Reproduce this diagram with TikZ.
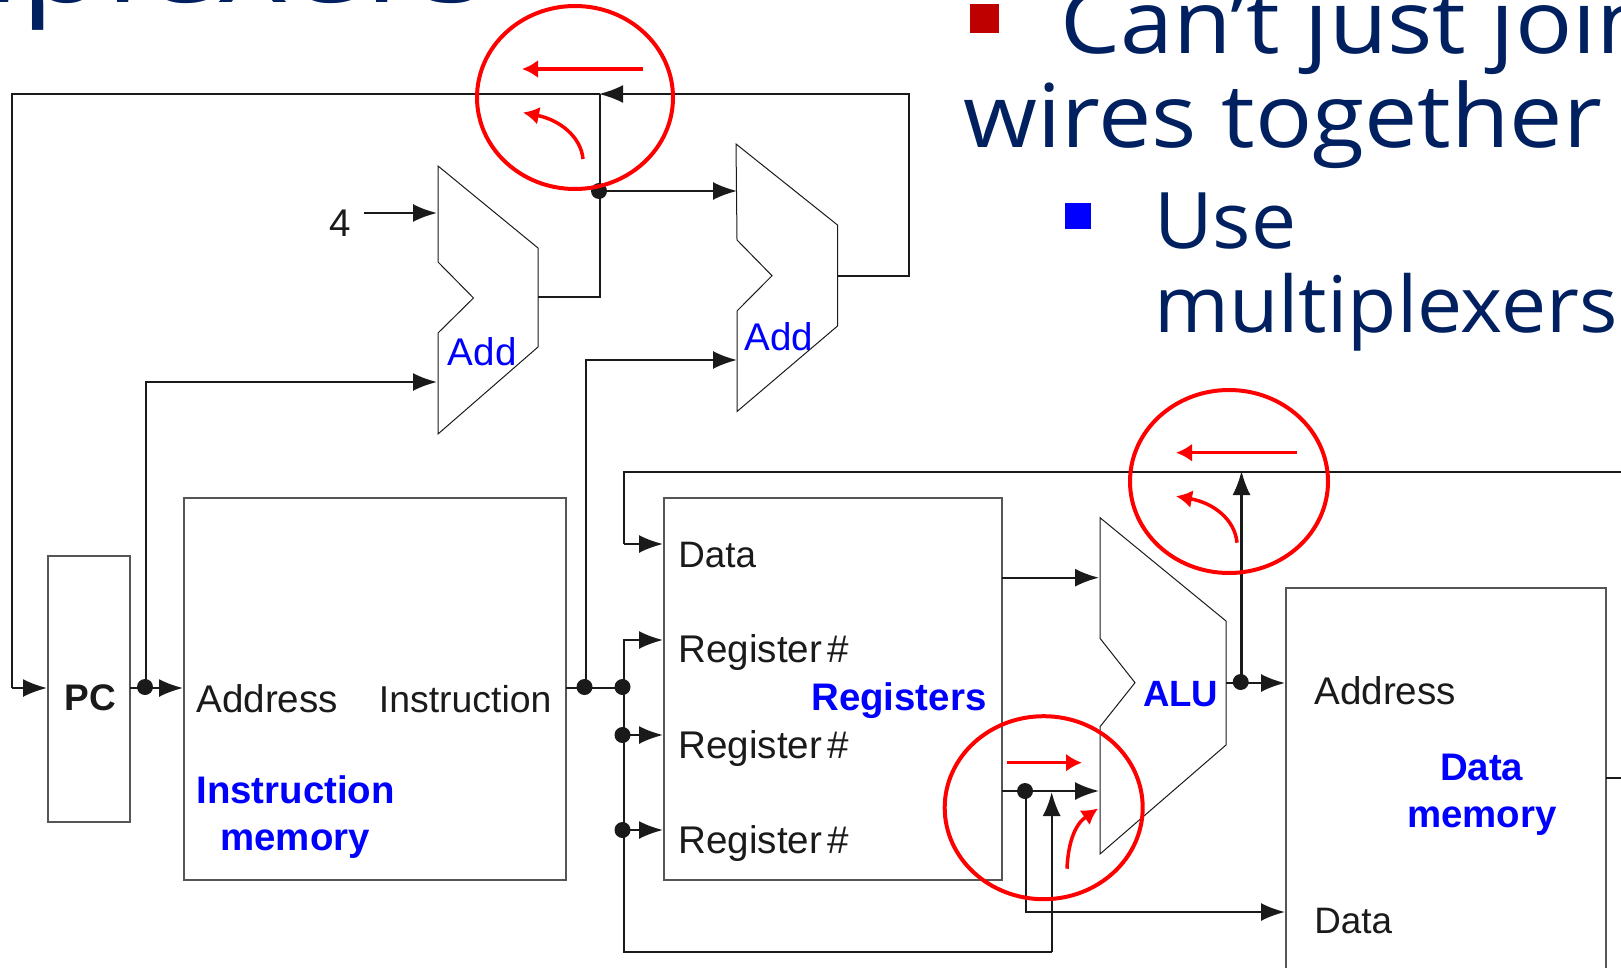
\documentclass[tikz,border=0pt]{standalone}
\usepackage{fontspec}
\setmainfont{Liberation Sans}
\newfontfamily\ttl{Open Sans}
\usetikzlibrary{arrows.meta,shapes.geometric}
\definecolor{navy}{HTML}{002060}
\definecolor{lab}{HTML}{0000FF}
\definecolor{ink}{HTML}{1A1A1A}
\definecolor{edge}{HTML}{555555}
\tikzset{
  wire/.style={draw=ink,line width=1.1pt},
  arw/.style={wire,-{Latex[length=12pt,width=9pt]}},
  box/.style={draw=edge,line width=0.8pt},
  alu/.style={draw=ink,line width=0.5pt},
  lbl/.style={inner sep=0pt,anchor=base west,text=ink,font=\fontsize{19.3}{19}\selectfont},
  blu/.style={inner sep=0pt,anchor=base west,text=lab,font=\fontsize{19.3}{19}\selectfont},
  bblu/.style={blu,font=\fontsize{19.2}{19}\selectfont\bfseries},
  cblu/.style={bblu,anchor=base},
  ring/.style={draw=red,line width=2pt,ellipse,inner sep=0pt},
  rarw/.style={draw=red,line width=1.75pt,-{Latex[length=8pt,width=9pt]}},
  dotj/.style={circle,fill=ink,inner sep=0pt,minimum size=8pt},
  ttlb/.style={inner sep=0pt,anchor=base west,text=navy,font=\ttl\fontsize{44}{44}\selectfont,xscale=1.08},
  ttlc/.style={ttlb,font=\ttl\fontsize{39}{39}\selectfont,xscale=0.955},
}
\begin{document}
\begin{tikzpicture}[x=0.5pt,y=-0.5pt]
\useasboundingbox (0,0) rectangle (1621,968);
\clip (0,0) rectangle (1621,968);
% slide texts
\node[ttlb,font=\ttl\fontsize{58}{58}\selectfont,xscale=1.111] (ttl) at (-310.6,3) {Multiplexers};
\node[ttlb] (l1) at (1060,53.3) {Can’t just join};
\node[ttlb] (l2) at (963,147.7) {wires together};
\node[ttlc] (l3) at (1154,249) {Use};
\node[ttlc] (l4) at (1154,332.5) {multiplexers};
\fill[fill=red!75!black] (970,4) rectangle (999,32.7);
\fill[fill=lab] (1065,203) rectangle (1091,228.7);
% boxes
\draw[box] (48.2,556) rectangle (129.7,821.7);
\draw[box] (183.7,497.7) rectangle (566,880);
\draw[box] (664,497.7) rectangle (1002,880);
\draw[box] (1285.7,587.7) rectangle (1606,990);
% adders and ALU
\draw[alu] (438,166)--(538,248)--(538,347)--(438,434)--(438,333)--(473.5,298)--(438,262)--cycle;
\draw[alu] (736,144)--(837.5,225)--(837.5,326)--(737,411.5)--(737,311)--(772,275.7)--(737,240)--cycle;
\draw[alu] (1100,517.7)--(1226,621)--(1226,745)--(1100,854)--(1100,726.7)--(1135,682.7)--(1100,638.3)--cycle;
% named junctions
\node[dotj] (j1) at (599,191) {};
\node[dotj] (j2) at (145,687) {};
\node[dotj] (j3) at (584.5,687) {};
\node[dotj] (j4) at (622.5,687) {};
\node[dotj] (j5) at (622.5,735) {};
\node[dotj] (j6) at (622.5,830) {};
\node[dotj] (j7) at (1025,791) {};
\node[dotj] (j8) at (1240.7,682) {};
\coordinate (a2top) at (737,191);
% wires
\draw[arw] (838,276)--(909,276)--(909,94)--(599,94);
\draw[wire] (600,94)--(12,94)--(12,688);
\draw[arw] (12,688)--(47,688);
\draw[wire] (538,297)--(600,297)--(600,94);
\draw[arw] (j1.center)--(a2top);
\draw[arw] (364,213)--(437,213);
\draw[arw] (146,688)--(146,382)--(437,382);
\draw[arw] (130,688)--(183,688);
\draw[wire] (566,688)--(624,688);
\draw[arw] (586,688)--(586,360)--(737,360);
\draw[arw] (624,688)--(624,640)--(663,640);
\draw[wire] (624,640)--(624,951.7)--(1051.7,951.7);
\draw[arw] (1051.7,951.7)--(1051.7,792);
\draw[arw] (624,735)--(663,735);
\draw[arw] (624,830)--(663,830);
\draw[arw] (1241.5,683)--(1241.5,471);
\draw[arw] (1226,683)--(1285,683);
\draw[wire] (1621,472)--(624,472)--(624,544);
\draw[arw] (624,544)--(663,544);
\draw[arw] (1002,577.7)--(1099,577.7);
\draw[arw] (1002,791)--(1099,791);
\draw[arw] (1026,791)--(1026,912)--(1285,912);
\draw[wire] (1606,778)--(1621,778);
% labels
\node[lbl] (n4) at (329,236.5) {4};
\node[blu] (a1) at (447.5,365.5) {Add};
\node[blu] (a2) at (744,350) {Add};
\node[lbl,font=\fontsize{18.5}{18.5}\selectfont\bfseries] (pc) at (64,710) {PC};
\node[lbl] (ia) at (196,712.5) {Address};
\node[lbl,font=\fontsize{18.7}{18.7}\selectfont] (ii) at (378.5,712.5) {Instruction};
\node[bblu] (im1) at (196,803.7) {Instruction};
\node[bblu] (im2) at (220,850.3) {memory};
\node[lbl,font=\fontsize{18.4}{18.4}\selectfont] (rd) at (678,567.7) {Data};
\node[lbl] (r1) at (678,662.7) {Register\kern2.5pt\#};
\node[lbl] (r2) at (678,758.3) {Register\kern2.5pt\#};
\node[lbl] (r3) at (678,853.7) {Register\kern2.5pt\#};
\node[bblu] (rr) at (811,710.3) {Registers};
\node[bblu,font=\fontsize{18.3}{18}\selectfont\bfseries] (alut) at (1142.7,706.2) {ALU};
\node[lbl] (da) at (1314,704.3) {Address};
\node[lbl,font=\fontsize{18.4}{18.4}\selectfont] (dd) at (1314,933.3) {Data};
\node[cblu] (dm1) at (1481.6,780.3) {Data};
\node[cblu] (dm2) at (1482,827.7) {memory};
% red annotations
\node[ring,minimum width=98pt,minimum height=91.5pt] (o1) at (575,97.5) {};
\node[ring,minimum width=99pt,minimum height=91.5pt] (o2) at (1229,481.5) {};
\node[ring,minimum width=99pt,minimum height=91.5pt] (o3) at (1043.7,807.7) {};
\draw[rarw] (643,69)--(522,69);
\draw[rarw] (583,159) .. controls (581,137) and (560,120) .. (523,112.5);
\draw[rarw] (1297,452.7)--(1176,452.7);
\draw[rarw] (1237,542.7) .. controls (1235,520) and (1214,503) .. (1176,496.2);
\draw[rarw] (1007,762.7)--(1082,762.7);
\draw[rarw] (1067,868.7) .. controls (1068,845) and (1074,825) .. (1098,808.5);
\end{tikzpicture}
\end{document}
